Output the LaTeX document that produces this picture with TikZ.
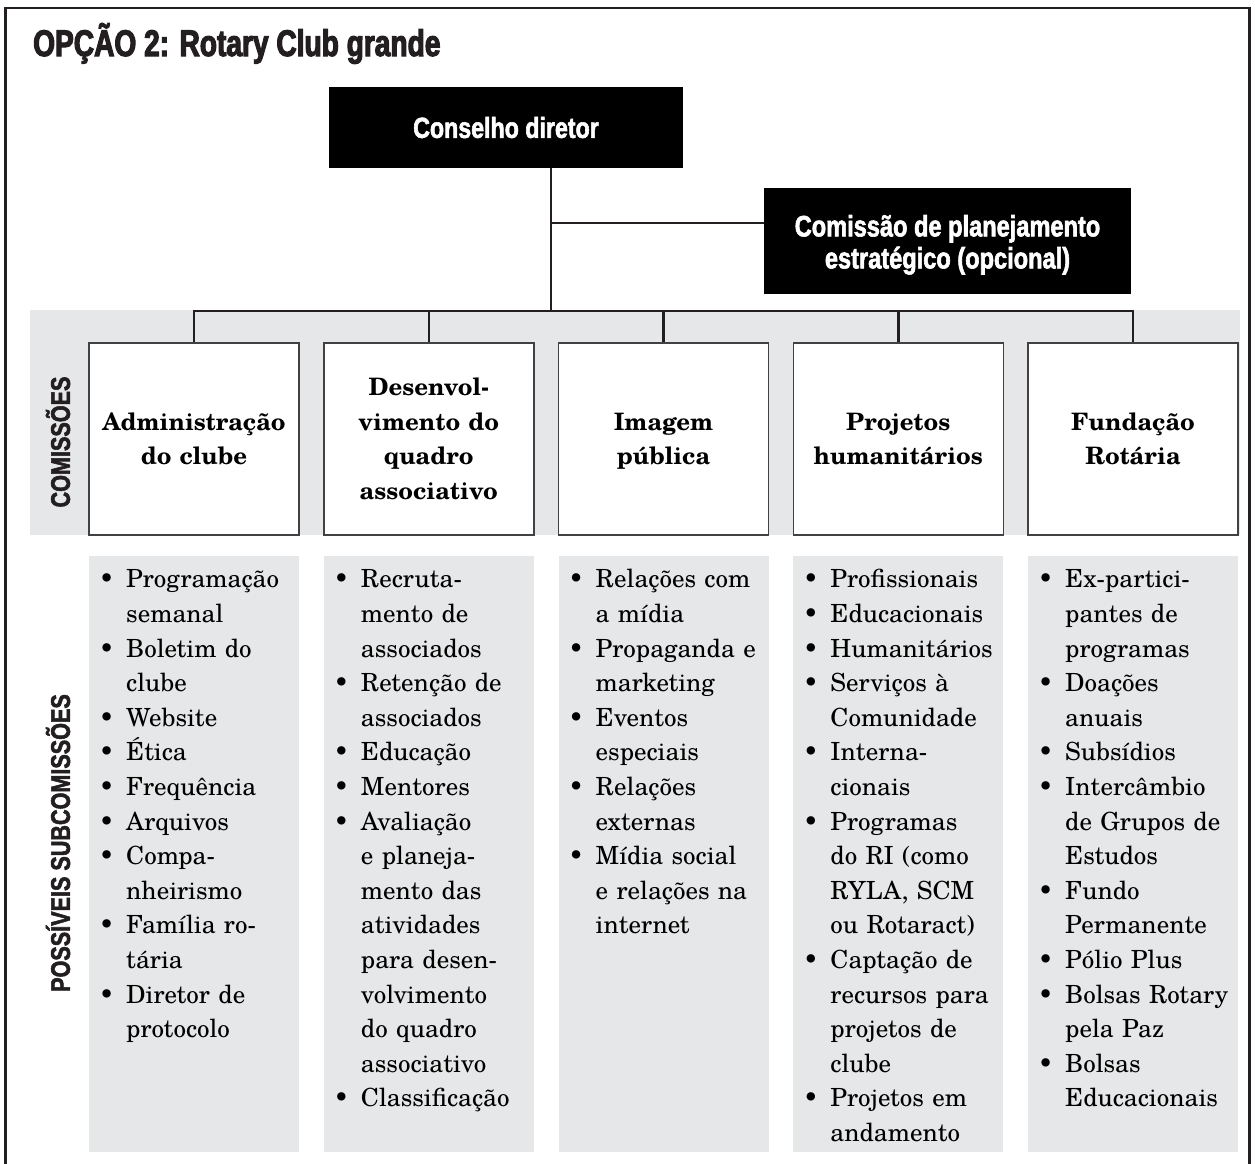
\documentclass[tikz,border=0pt]{standalone}
\usepackage{fontspec}
\setmainfont{TeX Gyre Schola}
\newfontface\condb{Liberation Sans Bold}[FakeStretch=0.8,FakeBold=2]
\newfontface\condt{Liberation Sans Bold}[FakeStretch=0.76,FakeBold=3]
\definecolor{band}{RGB}{230,231,232}
\definecolor{ink}{RGB}{35,31,32}
\definecolor{edge}{RGB}{65,64,66}
\newcommand\bi{\par\noindent\hangindent=27pt\hangafter=1\makebox[27pt][l]{\rule{0pt}{24pt}\textbullet}}
\newcommand\nl{\hfil\break}
\newcommand\tstrut{\rule{0pt}{24pt}}
\newcommand\bstrut{\rule[-7pt]{0pt}{7pt}}
\tikzset{
 blackbox/.style={fill=black, text=white, inner sep=0pt, align=center},
 combox/.style={draw=edge, line width=1.5pt, fill=white, minimum width=210pt, minimum height=192pt, inner sep=0pt, text width=200pt, align=center, font=\bfseries\fontsize{24}{34.6}\selectfont},
 listbg/.style={fill=band, draw=none, minimum width=210pt, minimum height=596pt, inner sep=0pt, anchor=north},
 listtxt/.style={anchor=north west, inner sep=0pt, text width=240pt, font=\fontsize{25}{34.6}\selectfont},
 conn/.style={draw=ink, line width=2.5pt},
 sidelabel/.style={rotate=90, inner sep=0pt, font=\condb\fontsize{27}{30}\selectfont, text=ink},
}
\begin{document}
\begin{tikzpicture}[x=1pt,y=-1pt]
\useasboundingbox (0,0) rectangle (1255,1163);
% outer frame (open at the bottom)
\draw[ink, line width=2.5pt] (5.5,1180) -- (5.5,8) -- (1249.5,8) -- (1249.5,1180);
% title
\node[anchor=base west, inner sep=0pt, font=\condt\fontsize{37}{42}\selectfont, text=ink] (title) at (33,56) {OPÇÃO 2: Rotary Club grande};
% gray band behind committees
\node[fill=band, minimum width=1210pt, minimum height=225pt, inner sep=0pt, anchor=north west] (band) at (30,310) {};
% top boxes
\node[blackbox, minimum width=354pt, minimum height=81pt, font=\condb\fontsize{29}{32}\selectfont] (cons) at (506,127.5) {Conselho diretor};
\node[blackbox, minimum width=367pt, minimum height=106pt, font=\condb\fontsize{29.5}{32}\selectfont] (csp) at (947.5,241) {\rule{0pt}{29pt}Comissão de planejamento\\estratégico (opcional)};
% committees
\node[combox] (c1) at (194,439) {\tstrut Administração\\do clube\bstrut};
\node[combox] (c2) at (428.75,439) {\tstrut Desenvol-\\vimento do\\quadro\\associativo\bstrut};
\node[combox] (c3) at (663.5,439) {\tstrut Imagem\\pública\bstrut};
\node[combox] (c4) at (898.25,439) {\tstrut Projetos\\humanitários\bstrut};
\node[combox] (c5) at (1133,439) {\tstrut Fundação\\Rotária\bstrut};
% connectors
\coordinate (j) at (551,311);
\draw[conn] (cons.south -| j) -- (j);
\draw[conn] ([yshift=18pt]csp.west) -- ([yshift=18pt]csp.west -| j);
\draw[conn] (c1.north) -- (c1.north |- j) -- (c5.north |- j) -- (c5.north);
\draw[conn] (c2.north) -- (c2.north |- j);
\draw[conn] (c3.north) -- (c3.north |- j);
\draw[conn] (c4.north) -- (c4.north |- j);
% side labels
\node[sidelabel] (lc) at (58,442) {COMISSÕES};
\node[sidelabel] (ls) at (58,843) {POSSÍVEIS SUBCOMISSÕES};
% list backgrounds
\node[listbg] (l1) at (194,556) {};
\node[listbg] (l2) at (428.75,556) {};
\node[listbg] (l3) at (663.5,556) {};
\node[listbg] (l4) at (898.25,556) {};
\node[listbg] (l5) at (1133,556) {};
% lists
\node[listtxt] (t1) at (99,553) {\bi Programação\nl semanal\bi Boletim do\nl clube\bi Website\bi Ética\bi Frequência\bi Arquivos\bi Compa-\nl nheirismo\bi Família ro-\nl tária\bi Diretor de\nl protocolo\par};
\node[listtxt] (t2) at (333.75,553) {\bi Recruta-\nl mento de\nl associados\bi Retenção de\nl associados\bi Educação\bi Mentores\bi Avaliação\nl e planeja-\nl mento das\nl atividades\nl para desen-\nl volvimento\nl do quadro\nl associativo\bi Classificação\par};
\node[listtxt] (t3) at (568.5,553) {\bi Relações com\nl a mídia\bi Propaganda e\nl marketing\bi Eventos\nl especiais\bi Relações\nl externas\bi Mídia social\nl e relações na\nl internet\par};
\node[listtxt] (t4) at (803.25,553) {\bi Profissionais\bi Educacionais\bi Humanitários\bi Serviços à\nl Comunidade\bi Interna-\nl cionais\bi Programas\nl do RI (como\nl RYLA, SCM\nl ou Rotaract)\bi Captação de\nl recursos para\nl projetos de\nl clube\bi Projetos em\nl andamento\par};
\node[listtxt] (t5) at (1038,553) {\bi Ex-partici-\nl pantes de\nl programas\bi Doações\nl anuais\bi Subsídios\bi Intercâmbio\nl de Grupos de\nl Estudos\bi Fundo\nl Permanente\bi Pólio Plus\bi Bolsas Rotary\nl pela Paz\bi Bolsas\nl Educacionais\par};
\end{tikzpicture}
\end{document}
